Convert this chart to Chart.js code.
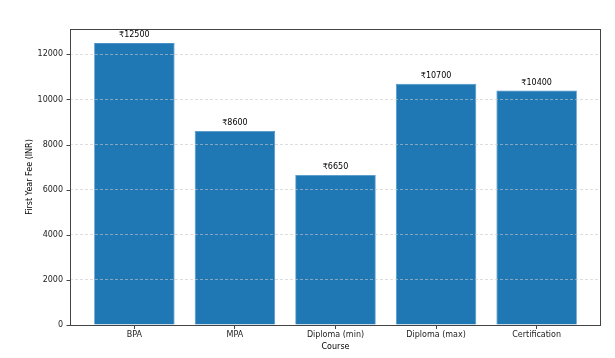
<!DOCTYPE html>
<html>
<head>
<meta charset="utf-8">
<script src="https://cdn.jsdelivr.net/npm/chart.js@4/dist/chart.umd.min.js"></script>
<style>
html,body{margin:0;padding:0;background:#fff;}
#wrap{width:615px;height:358px;position:relative;}
</style>
</head>
<body>
<div id="wrap"><canvas id="c" width="615" height="358"></canvas></div>
<script>
const categories = ["BPA", "MPA", "Diploma (min)", "Diploma (max)", "Certification"];
const fees = [12500, 8600, 6650, 10700, 10400];
const yTicks = [0, 2000, 4000, 6000, 8000, 10000, 12000];

const FONT = "'DejaVu Sans', sans-serif";

const framePlugin = {
  id: 'frame',
  afterDraw(chart) {
    const {ctx, chartArea: a, scales: {y}} = chart;
    ctx.save();
    ctx.strokeStyle = '#444';
    ctx.lineWidth = 1;
    ctx.strokeRect(Math.round(a.left) + 0.5, Math.round(a.top) + 0.5, Math.round(a.right - a.left) - 1, Math.round(a.bottom - a.top));
    yTicks.forEach(v => {
      const py = Math.round(y.getPixelForValue(v)) + 0.5;
      ctx.beginPath();
      ctx.moveTo(Math.round(a.left) - 3.5, py);
      ctx.lineTo(Math.round(a.left), py);
      ctx.stroke();
    });
    ctx.restore();
  }
};

const labelPlugin = {
  id: 'barLabels',
  afterDraw(chart) {
    const {ctx} = chart;
    const meta = chart.getDatasetMeta(0);
    ctx.save();
    ctx.font = "8px " + FONT;
    ctx.fillStyle = '#000';
    ctx.textAlign = 'center';
    ctx.textBaseline = 'bottom';
    meta.data.forEach((bar, i) => {
      ctx.fillText('\u20B9' + fees[i], bar.x, bar.y - 4);
    });
    ctx.restore();
  }
};

new Chart(document.getElementById('c'), {
  type: 'bar',
  data: {
    datasets: [{
      data: fees.map((v, i) => ({x: i, y: v})),
      backgroundColor: '#1f77b4',
      borderColor: '#4a90c8',
      borderWidth: 0.8,
      barPercentage: 0.8,
      categoryPercentage: 1.0
    }]
  },
  options: {
    responsive: false,
    animation: false,
    devicePixelRatio: 1,
    layout: {padding: {left: 21, top: 29, right: 14, bottom: 0}},
    plugins: {legend: {display: false}, tooltip: {enabled: false}},
    scales: {
      x: {
        type: 'linear',
        offset: false,
        min: -0.64,
        max: 4.64,
        afterBuildTicks(scale) { scale.ticks = categories.map((c, i) => ({value: i})); },
        afterFit(scale) { scale.height = 33; },
        grid: {display: true, offset: false, drawOnChartArea: false, drawTicks: true, tickLength: 4, color: '#444', lineWidth: 1},
        border: {display: false},
        ticks: {
          autoSkip: false,
          maxRotation: 0,
          padding: 1,
          color: '#222',
          font: {family: FONT, size: 8},
          callback: (v) => categories[v] !== undefined ? categories[v] : ''
        },
        title: {display: true, text: 'Course', color: '#000', font: {family: FONT, size: 8}, padding: {top: 0, bottom: 6}}
      },
      y: {
        min: 0,
        max: 13125,
        afterBuildTicks(scale) { scale.ticks = yTicks.map(v => ({value: v})); },
        afterFit(scale) { scale.width = 49; },
        grid: {
          z: 1,
          color: 'rgba(200,200,200,0.75)',
          lineWidth: 0.8,
          drawTicks: false
        },
        border: {display: false, dash: [3, 2]},
        ticks: {
          padding: 7,
          color: '#222',
          font: {family: FONT, size: 8},
          callback: (v) => String(v)
        },
        title: {display: true, text: 'First Year Fee (INR)', color: '#000', font: {family: FONT, size: 8}, padding: {top: 4, bottom: 4}}
      }
    }
  },
  plugins: [labelPlugin, framePlugin]
});
</script>
</body>
</html>
